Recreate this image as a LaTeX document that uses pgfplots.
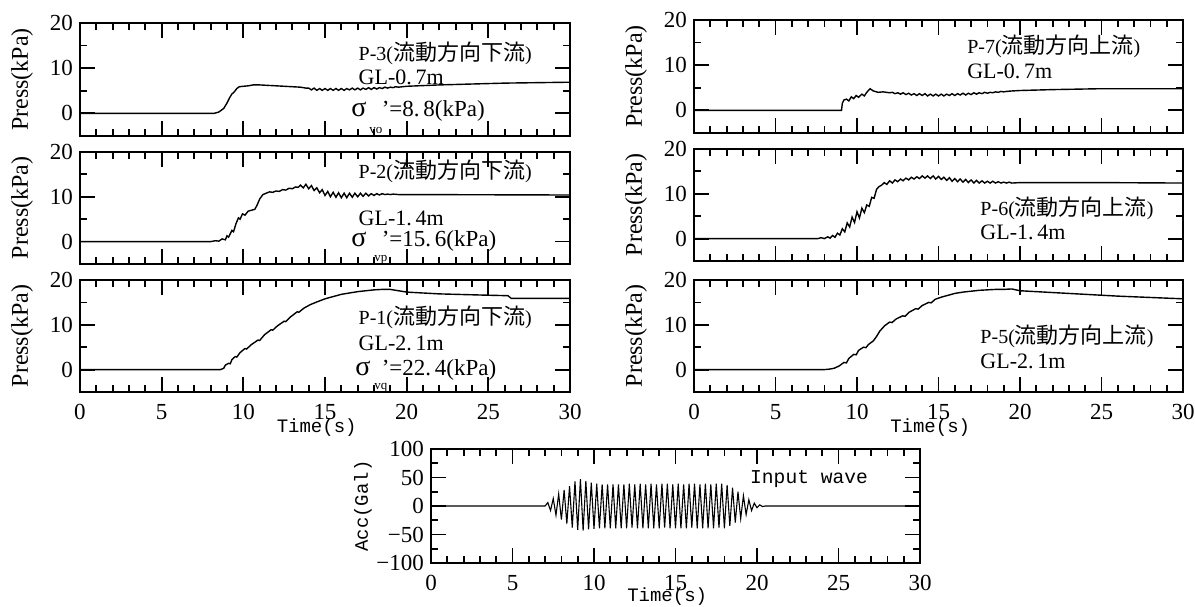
\documentclass[border=0pt]{standalone}
\usepackage{fontspec}
\setmainfont{Liberation Serif}
\setmonofont{Liberation Mono}
\newfontfamily\cjk{Noto Sans CJK JP}
\usepackage{pgfplots}
\pgfplotsset{compat=1.18}

\newcommand{\fs}[1]{\fontsize{#1}{#1}\selectfont}

\pgfplotsset{
  panel/.style={
    scale only axis, anchor=south west,
    xmin=0, xmax=30, xtick={0,5,...,30}, minor x tick num=4,
    tick align=inside, tick pos=both,
    axis line style={line width=1pt},
    tick style={black, line width=0.9pt},
    major tick length=7.5pt, minor tick length=3.5pt,
    tick label style={font=\fs{11.5}},
    /pgf/number format/assume math mode=true,
    ylabel style={at={(axis description cs:0,0.5)}, anchor=center, yshift=29pt, font=\fs{12}},
    xlabel style={at={(axis description cs:0.483,0)}, anchor=center, yshift=-18pt, font=\ttfamily\fs{9.5}},
    every axis plot post/.append style={black, line width=0.7pt, mark=none},
  },
  press/.style={panel, ymin=-5, ymax=20, ytick={0,10,20}, minor y tick num=1, ylabel={Press(kPa)}},
  nox/.style={xticklabels={}},
  botx/.style={xticklabels={0,5,10,15,20,25,30}, xticklabel style={yshift=-2.5pt}, xlabel={Time(s)}},
}
\tikzset{
  ann/.style={anchor=base west, inner sep=0pt, font=\fs{10}},
  gl/.style={ann, font=\fs{11}},
  sig/.style={ann, font=\fs{14}},
  sub/.style={ann, font=\fs{6.5}},
  eq/.style={ann, font=\fs{11.5}},
}
\newcommand{\jp}[1]{{\cjk\fs{11}#1}}

\begin{document}
\begin{tikzpicture}
\useasboundingbox (0,0) rectangle (597.5pt,303pt);

% ---------- left column: downstream ----------
\begin{axis}[press, nox, at={(40pt,235pt)}, width=245pt, height=56.5pt]
\addplot coordinates {
 (0,0) (8.2,0) (8.5,0.3) (8.8,1.1) (9.0,2.3) (9.15,3.4) (9.3,4.3) (9.4,4.6)
 (9.5,5.0) (9.6,5.5) (9.75,5.9) (10,6.0) (10.3,6.1) (10.6,6.3) (11,6.3)
 (11.5,6.2) (12,6.1) (12.5,6.0) (13,5.9) (13.5,5.8) (13.83,5.6)
 (14.0,5.6) (14.17,5.2) (14.33,5.6) (14.5,5.1) (14.67,5.5) (14.83,5.1)
 (15.0,5.5) (15.17,5.1) (15.33,5.5) (15.5,5.1) (15.67,5.5) (15.83,5.1)
 (16.0,5.5) (16.17,5.1) (16.33,5.5) (16.5,5.2) (16.67,5.6) (16.83,5.2)
 (17.0,5.6) (17.17,5.2) (17.33,5.6) (17.5,5.3) (17.67,5.7) (17.83,5.3)
 (18.0,5.7) (18.17,5.4) (18.33,5.7) (18.5,5.5) (18.67,5.8) (18.83,5.6)
 (19.0,5.8) (19.17,5.7) (19.33,5.9) (19.5,5.8) (20,6.0) (22,6.3)
 (24,6.5) (26,6.7) (28,6.8) (30,6.9)
};
\node[ann] at (rel axis cs:0.568,0.67) {P-3(\jp{流動方向下流})};
\node[gl] at (rel axis cs:0.568,0.46) {GL-0.\,7m};
\node[sig] at (rel axis cs:0.553,0.17) {σ};
\node[sub] at (rel axis cs:0.590,0.02) {vo};
\node[eq] at (rel axis cs:0.615,0.17) {’=8.\,8(kPa)};
\end{axis}

\begin{axis}[press, nox, at={(40pt,171pt)}, width=245pt, height=56pt]
\addplot coordinates {
 (0,0) (8.0,0) (8.3,0.2) (8.5,0.1) (8.7,0.6) (8.9,0.4) (9.0,1.3) (9.1,1.0)
 (9.3,2.5) (9.4,2.2) (9.55,4.0) (9.7,5.3) (9.8,5.0) (9.95,6.2) (10.1,5.9)
 (10.3,6.8) (10.5,7.0) (10.7,7.2) (10.85,8.2) (11.0,9.5) (11.2,10.5)
 (11.4,10.8) (11.6,11.1) (11.8,11.0) (12.0,11.3) (12.2,11.2) (12.4,11.6)
 (12.6,11.5) (12.8,11.9) (13.0,11.8) (13.2,12.2) (13.35,12.1)
 (13.50,12.6) (13.67,12.0) (13.83,12.8) (14.00,11.8) (14.17,12.5) (14.33,11.4)
 (14.50,12.0) (14.67,10.9) (14.83,11.6) (15.00,10.3) (15.17,11.2) (15.33,10.0)
 (15.50,11.0) (15.67,9.9) (15.83,10.9) (16.00,9.8) (16.17,10.8) (16.33,9.8)
 (16.50,10.8) (16.67,9.9) (16.83,10.8) (17.00,10.0) (17.17,10.8) (17.33,10.1)
 (17.50,10.8) (17.67,10.2) (17.83,10.7) (18.00,10.3) (18.17,10.7) (18.33,10.4)
 (18.50,10.7) (18.67,10.5) (18.83,10.6) (19.00,10.5) (19.17,10.6) (19.5,10.5)
 (20,10.5) (30,10.4)
};
\node[ann] at (rel axis cs:0.568,0.76) {P-2(\jp{流動方向下流})};
\node[gl] at (rel axis cs:0.568,0.34) {GL-1.\,4m};
\node[sig] at (rel axis cs:0.553,0.16) {σ};
\node[sub] at (rel axis cs:0.600,0.02) {vp};
\node[eq] at (rel axis cs:0.615,0.16) {’=15.\,6(kPa)};
\end{axis}

\begin{axis}[press, botx, at={(40pt,107pt)}, width=245pt, height=56pt]
\addplot coordinates {
 (0,0) (8.6,0) (8.8,0.3) (8.9,1.0) (9.1,1.4) (9.2,1.3) (9.3,2.2) (9.5,2.9)
 (9.6,2.8) (9.8,3.8) (10.1,4.7) (10.2,4.6) (10.5,5.6) (10.9,6.6) (11.0,6.5)
 (11.3,7.8) (11.7,8.9) (11.8,8.8) (12.1,9.8) (12.5,10.8) (12.6,10.7)
 (12.9,11.8) (13.3,12.9) (13.4,12.8) (13.7,13.7) (14.1,14.5) (14.5,15.1)
 (15,15.8) (15.5,16.3) (16,16.8) (16.5,17.1) (17,17.4) (17.5,17.6)
 (18,17.8) (18.5,17.9) (19,17.9) (19.5,17.6) (20,17.3) (21,17.1) (22,16.9)
 (23,16.8) (24,16.7) (25,16.6) (26.2,16.5) (26.4,15.9) (27,15.9) (30,15.9)
};
\node[ann] at (rel axis cs:0.568,0.60) {P-1(\jp{流動方向下流})};
\node[gl] at (rel axis cs:0.568,0.37) {GL-2.\,1m};
\node[sig] at (rel axis cs:0.561,0.15) {σ};
\node[sub] at (rel axis cs:0.600,0.02) {vq};
\node[eq] at (rel axis cs:0.615,0.15) {’=22.\,4(kPa)};
\end{axis}

% ---------- right column: upstream ----------
\begin{axis}[press, nox, at={(347pt,236.5pt)}, width=244.5pt, height=56.5pt]
\addplot coordinates {
 (0,0) (9.05,0) (9.1,1.6) (9.2,2.3) (9.35,2.5) (9.5,2.1) (9.65,3.0) (9.8,2.6)
 (9.95,3.3) (10.1,2.9) (10.3,3.6) (10.45,3.2) (10.6,4.0) (10.8,4.8) (11.0,4.3)
 (11.3,4.0) (11.6,4.1) (12.0,3.9) (12.17,4.0) (12.33,3.7) (12.5,3.9)
 (12.67,3.6) (12.83,3.9) (13.0,3.5) (13.17,3.8) (13.33,3.4) (13.5,3.7)
 (13.67,3.3) (13.83,3.7) (14.0,3.3) (14.17,3.7) (14.33,3.2) (14.5,3.6)
 (14.67,3.2) (14.83,3.6) (15.0,3.2) (15.17,3.6) (15.33,3.2) (15.5,3.6)
 (15.67,3.3) (15.83,3.7) (16.0,3.3) (16.17,3.7) (16.33,3.4) (16.5,3.8)
 (16.67,3.4) (16.83,3.8) (17.0,3.5) (17.17,3.9) (17.33,3.6) (17.5,3.9)
 (17.67,3.7) (17.83,4.0) (18.0,3.8) (18.17,4.0) (18.33,3.9) (18.5,4.1)
 (18.67,4.0) (18.83,4.2) (19.0,4.1) (19.17,4.2) (19.5,4.3) (20,4.4)
 (22,4.6) (25,4.8) (30,4.8)
};
\node[ann] at (rel axis cs:0.558,0.70) {P-7(\jp{流動方向上流})};
\node[gl] at (rel axis cs:0.558,0.48) {GL-0.\,7m};
\end{axis}

\begin{axis}[press, nox, at={(347pt,172.5pt)}, width=244.5pt, height=56pt]
\addplot coordinates {
 (0,0) (7.6,0) (7.8,0.2) (8.0,0) (8.2,0.4) (8.35,0.1) (8.5,0.7) (8.65,0.3)
 (8.8,1.2) (8.95,0.8) (9.1,2.2) (9.25,1.5) (9.4,3.5) (9.55,2.6) (9.7,4.8)
 (9.85,3.6) (10.0,6.0) (10.15,4.6) (10.3,6.8) (10.45,5.8) (10.6,7.5)
 (10.75,7.2) (10.9,9.2) (11.05,9.0) (11.2,11.0) (11.35,11.6)
 (11.50,11.9) (11.67,12.5) (11.83,12.1) (12.00,12.9) (12.17,12.4) (12.33,13.1)
 (12.50,12.7) (12.67,13.3) (12.83,12.9) (13.00,13.5) (13.17,13.1) (13.33,13.7)
 (13.50,13.3) (13.67,13.8) (13.83,13.4) (14.00,14.0) (14.17,13.5) (14.33,14.0)
 (14.50,13.4) (14.67,14.0) (14.83,13.3) (15.00,13.9) (15.17,13.2) (15.33,13.7)
 (15.50,13.0) (15.67,13.6) (15.83,12.8) (16.00,13.4) (16.17,12.7) (16.33,13.3)
 (16.50,12.6) (16.67,13.2) (16.83,12.5) (17.00,13.1) (17.17,12.4) (17.33,13.0)
 (17.50,12.4) (17.67,12.9) (17.83,12.4) (18.00,12.8) (18.17,12.4) (18.33,12.8)
 (18.50,12.4) (18.67,12.7) (18.83,12.4) (19.00,12.6) (19.17,12.4) (19.33,12.6)
 (19.50,12.4) (20,12.5) (25,12.5) (30,12.4)
};
\node[ann] at (rel axis cs:0.585,0.41) {P-6(\jp{流動方向上流})};
\node[gl] at (rel axis cs:0.585,0.19) {GL-1.\,4m};
\end{axis}

\begin{axis}[press, botx, at={(347pt,107pt)}, width=244.5pt, height=56pt]
\addplot coordinates {
 (0,0) (8.0,0) (8.3,0.1) (8.6,0.3) (8.9,0.8) (9.2,1.6) (9.35,1.5) (9.5,2.5)
 (9.8,3.4) (9.95,3.3) (10.1,4.3) (10.4,5.0) (10.55,4.9) (10.7,5.6) (11.0,6.4)
 (11.2,7.4) (11.4,8.6) (11.7,9.8) (12.0,10.6) (12.15,10.5) (12.4,11.3)
 (12.8,12.0) (12.95,11.9) (13.2,12.8) (13.6,13.6) (13.75,13.5) (14.0,14.3)
 (14.4,15.0) (14.55,14.9) (14.8,15.7) (15.2,16.2) (15.6,16.6) (16.0,17.0)
 (16.5,17.3) (17,17.5) (17.5,17.7) (18,17.8) (18.5,17.9) (19,17.9)
 (19.5,18.0) (20,17.6) (22,17.2) (24,16.8) (26,16.4) (28,16.1) (30,15.8)
};
\node[ann] at (rel axis cs:0.585,0.43) {P-5(\jp{流動方向上流})};
\node[gl] at (rel axis cs:0.585,0.21) {GL-2.\,1m};
\end{axis}

% ---------- input wave ----------
\begin{axis}[panel, botx, at={(215.5pt,21.5pt)}, width=244.5pt, height=57pt,
  ymin=-100, ymax=100, ytick={-100,-50,0,50,100},
  yticklabels={−100,−50,0,50,100}, minor y tick num=1,
  ylabel={Acc(Gal)}, ylabel style={yshift=5pt, font=\ttfamily\fs{9.5}},
  xlabel style={yshift=1pt},
  every axis plot post/.append style={line width=0.55pt}]
\addplot coordinates {
 (0,0) (7.0,0) (7.167,6) (7.333,-8) (7.5,13) (7.667,-16) (7.833,21)
 (8.0,-24) (8.167,28) (8.333,-31) (8.5,35) (8.667,-38) (8.833,43)
 (9.0,-42) (9.167,47) (9.333,-43) (9.5,44) (9.667,-41) (9.833,41)
 (10.0,-40) (10.167,39) (10.333,-39) (10.5,38) (10.667,-39) (10.833,38)
 (11.0,-39) (11.167,38) (11.333,-39) (11.5,38) (11.667,-39) (11.833,38)
 (12.0,-39) (12.167,39) (12.333,-38) (12.5,38) (12.667,-39) (12.833,39)
 (13.0,-39) (13.167,38) (13.333,-39) (13.5,39) (13.667,-39) (13.833,38)
 (14.0,-39) (14.167,39) (14.333,-38) (14.5,39) (14.667,-39) (14.833,38)
 (15.0,-39) (15.167,39) (15.333,-39) (15.5,38) (15.667,-39) (15.833,39)
 (16.0,-38) (16.167,39) (16.333,-39) (16.5,38) (16.667,-39) (16.833,39)
 (17.0,-39) (17.167,38) (17.333,-39) (17.5,39) (17.667,-38) (17.833,39)
 (18.0,-39) (18.167,37) (18.333,-35) (18.5,32) (18.667,-29) (18.833,25)
 (19.0,-22) (19.167,18) (19.333,-15) (19.5,11) (19.667,-8) (19.833,5)
 (20.0,-3) (20.167,2) (20.333,-1) (20.5,0) (30,0)
};
\node[anchor=base west, inner sep=0pt, font=\ttfamily\fs{9.8}] at (rel axis cs:0.652,0.70) {Input wave};
\end{axis}
\end{tikzpicture}
\end{document}
